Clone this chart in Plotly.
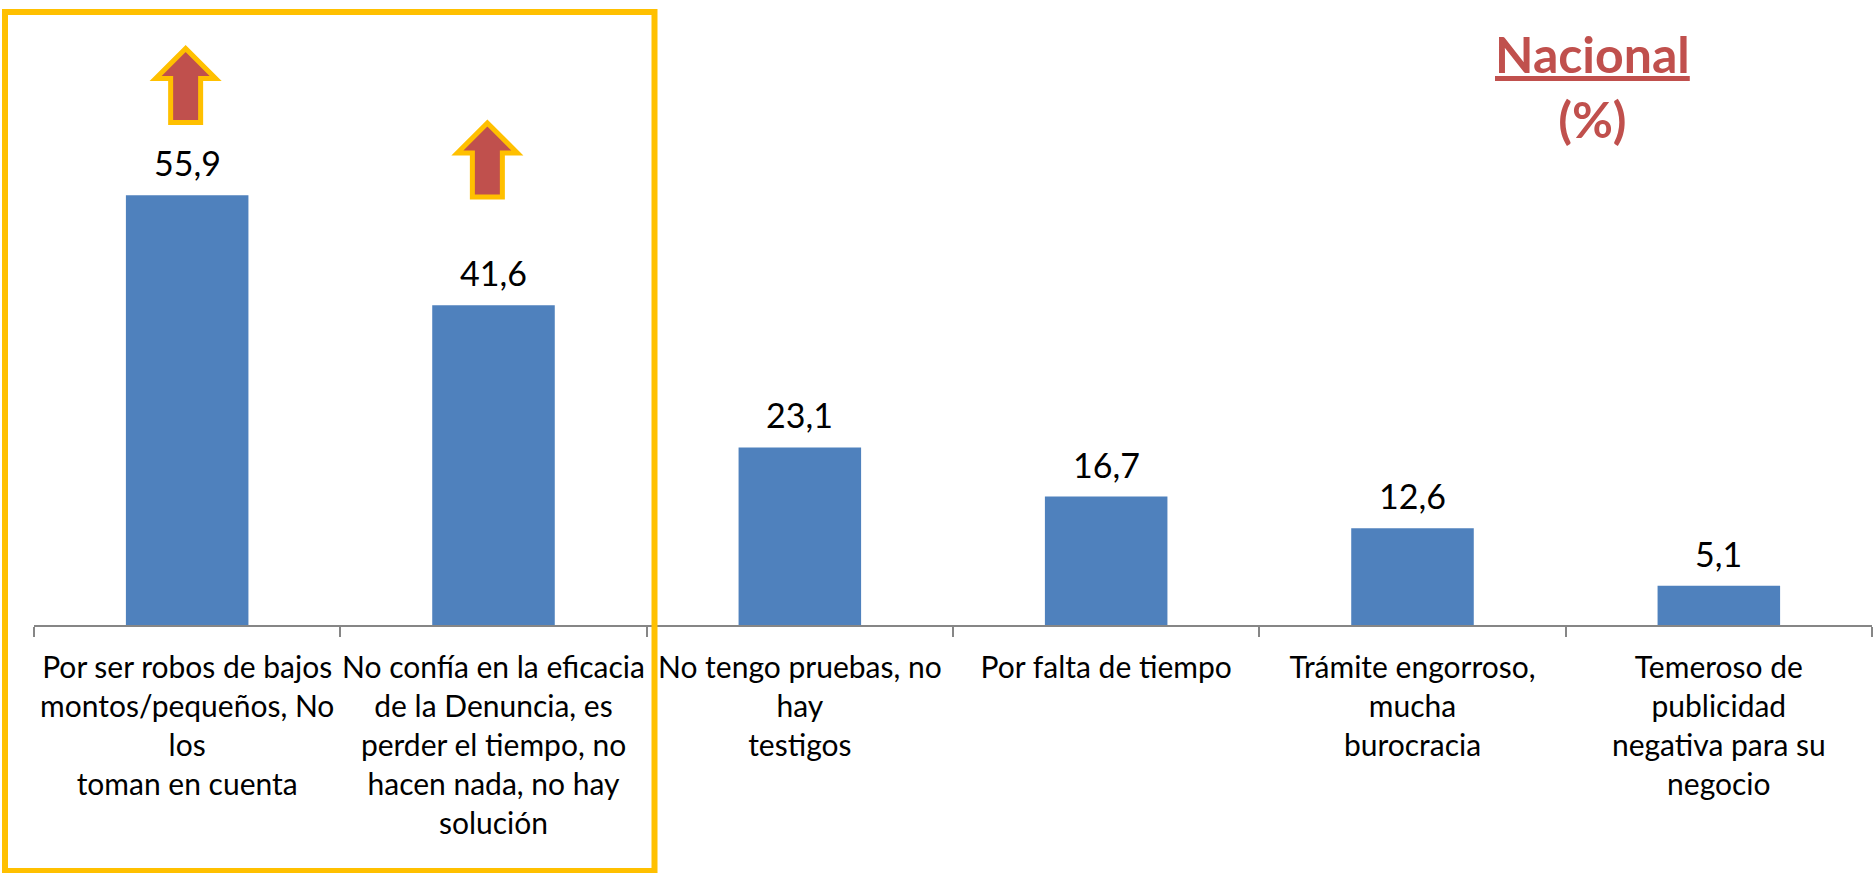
import plotly.graph_objects as go

categories = [
    "Por ser robos de bajos<br>montos/pequeños, No<br>los<br>toman en cuenta",
    "No confía en la eficacia<br>de la Denuncia, es<br>perder el tiempo, no<br>hacen nada, no hay<br>solución",
    "No tengo pruebas, no<br>hay<br>testigos",
    "Por falta de tiempo",
    "Trámite engorroso,<br>mucha<br>burocracia",
    "Temeroso de<br>publicidad<br>negativa para su<br>negocio",
]
values = [55.9, 41.6, 23.1, 16.7, 12.6, 5.1]
arrow_positions = [-0.005, 0.98]
arrow_tip_levels = [75.0, 65.3]

W, H = 1874, 873
ML, MR, MB = 34, 2, 248
PW, PH = W - ML - MR, H - MB
FONT = "Lato, 'Open Sans', sans-serif"
ARROW = "M 0 0 L 30 -30 L 15 -30 L 15 -74 L -15 -74 L -15 -30 L -30 -30 Z"

fig = go.Figure(go.Bar(
    x=categories, y=values, width=0.4,
    marker=dict(color="#4F81BD", line=dict(width=0)),
    cliponaxis=False, hoverinfo="skip",
))

shapes = [dict(type="rect", xref="paper", yref="paper", layer="above",
               x0=(5 - ML) / PW, x1=(654.5 - ML) / PW,
               y0=(PH - 871) / PH, y1=(PH - 12) / PH,
               line=dict(color="#FFC000", width=6), fillcolor="rgba(0,0,0,0)")]
for p, v in zip(arrow_positions, arrow_tip_levels):
    shapes.append(dict(type="path", xref="x", yref="y", layer="above",
                       xsizemode="pixel", ysizemode="pixel",
                       xanchor=p, yanchor=v, path=ARROW,
                       fillcolor="#C0504D",
                       line=dict(color="#FFC000", width=5)))

annotations = [dict(
    text="<b><u>Nacional</u></b><br><b>(%)</b>",
    xref="paper", yref="paper", x=(1592 - ML) / PW, y=(PH - 21.5) / PH,
    xanchor="center", yanchor="top", showarrow=False, align="center",
    font=dict(family=FONT, size=50, color="#C0504D"),
)]
for c, v in zip(categories, values):
    annotations.append(dict(
        text=f"{v:.1f}".replace(".", ","), x=c, y=v, xref="x", yref="y",
        xanchor="center", yanchor="bottom", yshift=10, showarrow=False,
        font=dict(family=FONT, size=34, color="#000000"),
    ))

fig.update_layout(
    width=W, height=H, autosize=False,
    margin=dict(l=ML, r=MR, t=0, b=MB, pad=0),
    paper_bgcolor="#FFFFFF", plot_bgcolor="#FFFFFF",
    showlegend=False,
    shapes=shapes, annotations=annotations,
    xaxis=dict(
        type="category", categoryorder="array", categoryarray=categories,
        tickson="boundaries", ticks="outside", ticklen=10, tickwidth=2,
        tickcolor="#868686", tickangle=0, showgrid=False, zeroline=False,
        showline=True, linecolor="#868686", linewidth=2,
        ticklabelstandoff=15,
        tickfont=dict(family=FONT, size=30, color="#000000"),
    ),
    yaxis=dict(range=[0, 81.3], visible=False),
)
fig.write_html("out.html", config=dict(displayModeBar=False),
               post_script="document.body.style.margin='0';document.documentElement.style.overflow='hidden';")
